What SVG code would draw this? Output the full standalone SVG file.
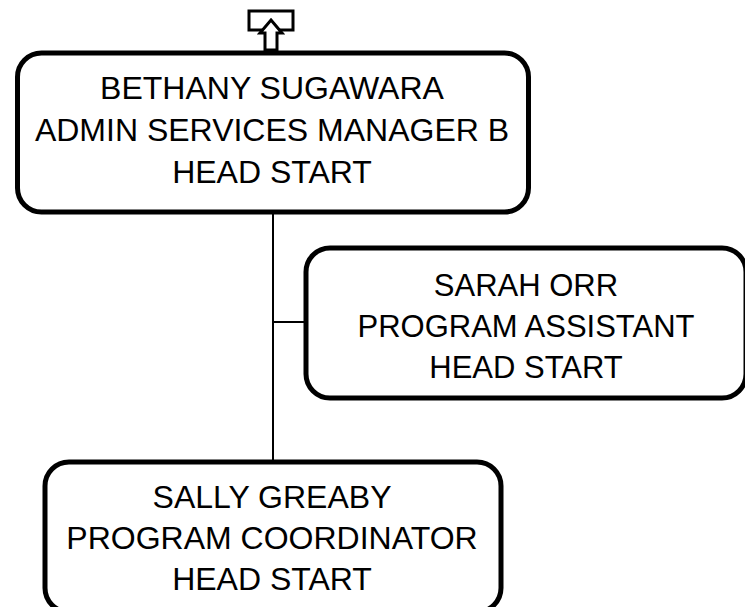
<svg xmlns="http://www.w3.org/2000/svg" width="745" height="607" viewBox="0 0 745 607">
<style>
.box{fill:#fff;stroke:#000;stroke-width:5}
.lbl{font-family:"Liberation Sans",Arial,sans-serif;font-size:32px;fill:#000;text-anchor:middle}
.sm{font-size:31px}
.con{stroke:#000;stroke-width:2;fill:none}
</style>
<rect width="745" height="607" fill="#fff"/>
<g id="connectors">
<line class="con" x1="273" y1="212" x2="273" y2="462"/>
<line class="con" x1="273" y1="322" x2="306" y2="322"/>
</g>
<g id="up-icon">
<rect x="249" y="11" width="44" height="19" fill="#fff" stroke="#000" stroke-width="3"/>
<path d="M271 20 L282 33 L277 33 L277 50 L265 50 L265 33 L260 33 Z" fill="#fff" stroke="#000" stroke-width="3" stroke-linejoin="miter"/>
</g>
<g id="node-bethany">
<rect class="box" x="17.5" y="53" width="511" height="159" rx="24"/>
<text class="lbl" x="272" y="98.5">BETHANY SUGAWARA</text>
<text class="lbl" x="272" y="140.5">ADMIN SERVICES MANAGER B</text>
<text class="lbl" x="272" y="182.5">HEAD START</text>
</g>
<g id="node-sarah">
<rect class="box" x="306" y="248" width="440" height="150" rx="24"/>
<text class="lbl sm" x="526" y="296">SARAH ORR</text>
<text class="lbl sm" x="526" y="337">PROGRAM ASSISTANT</text>
<text class="lbl sm" x="526" y="378">HEAD START</text>
</g>
<g id="node-sally">
<rect class="box" x="45" y="462" width="456" height="150" rx="24"/>
<text class="lbl" x="272" y="508">SALLY GREABY</text>
<text class="lbl" x="272" y="549">PROGRAM COORDINATOR</text>
<text class="lbl" x="272" y="590">HEAD START</text>
</g>
</svg>
